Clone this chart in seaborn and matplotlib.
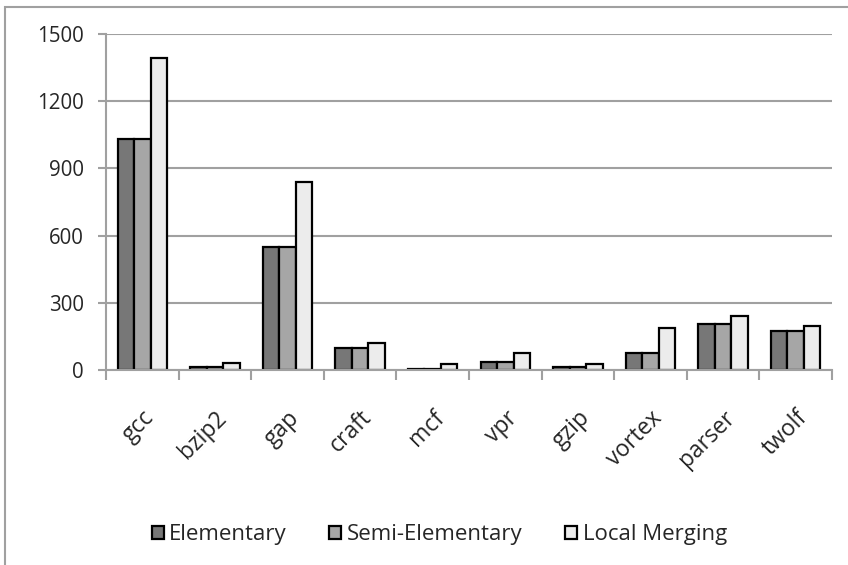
import pandas as pd
import matplotlib
matplotlib.use("Agg")
import matplotlib.pyplot as plt
import seaborn as sns
from matplotlib.patches import Rectangle

# Benchmarks and values
benchmarks = ["gcc", "bzip2", "gap", "craft", "mcf", "vpr", "gzip", "vortex", "parser", "twolf"]
elementary = [1032, 12, 549, 96, 6, 37, 13, 78, 206, 173]
semi_elementary = [1032, 12, 549, 96, 6, 37, 13, 78, 206, 173]
local_merging = [1391, 30, 839, 119, 28, 78, 27, 188, 239, 198]
series_names = ["Elementary", "Semi-Elementary", "Local Merging"]
series_colors = ["#777777", "#a6a6a6", "#ececec"]
y_ticks = [0, 300, 600, 900, 1200, 1500]

# long format for seaborn
rows = []
for name, vals in zip(series_names, [elementary, semi_elementary, local_merging]):
    for b, v in zip(benchmarks, vals):
        rows.append({"benchmark": b, "series": name, "value": v})
df = pd.DataFrame(rows)

sns.set_style("white")
plt.rcParams["font.family"] = ["Open Sans", "DejaVu Sans"]

fig = plt.figure(figsize=(8.48, 5.65), dpi=100)
ax = fig.add_axes([106 / 848, 1 - 370 / 565, 726 / 848, 336 / 565])

sns.barplot(data=df, x="benchmark", y="value", hue="series", order=benchmarks,
            hue_order=series_names, palette=series_colors, width=0.68, gap=0,
            edgecolor="black", linewidth=1.6, ax=ax, legend=True)

ax.set_xlim(-0.5, len(benchmarks) - 0.5)
ax.set_ylim(0, 1500)
ax.set_yticks(y_ticks)
ax.set_yticklabels([str(t) for t in y_ticks], fontsize=14.8)
ax.yaxis.grid(True, color="#a0a0a0", linewidth=1.5)
ax.set_axisbelow(True)
ax.set_xlabel("")
ax.set_ylabel("")

# category labels rotated, tick marks between groups
ax.set_xticks(range(len(benchmarks)))
ax.set_xticklabels(benchmarks, rotation=45, ha="right", rotation_mode="anchor", fontsize=16.5)
ax.tick_params(axis="x", which="major", length=0, pad=26)
ax.set_xticks([i + 0.5 for i in range(-1, len(benchmarks))], minor=True)
ax.tick_params(axis="x", which="minor", length=7, width=1.5, color="#a0a0a0", bottom=True)
ax.tick_params(axis="y", length=6, width=1.5, color="#a0a0a0", left=True, pad=10)

for s in ["top", "right"]:
    ax.spines[s].set_visible(False)
for s in ["left", "bottom"]:
    ax.spines[s].set_color("#a0a0a0")
    ax.spines[s].set_linewidth(1.5)

ax.legend(loc="center", bbox_to_anchor=(0.459, -0.491),
          ncol=3, frameon=False, fontsize=16, handlelength=0.55, handleheight=0.55,
          handletextpad=0.25, columnspacing=1.9, bbox_transform=ax.transAxes)

# outer chart frame
fig.add_artist(Rectangle((5 / 848, -0.1), 1.2, 1.1 - 7 / 565, transform=fig.transFigure,
                         fill=False, edgecolor="#a0a0a0", linewidth=1.5))

fig.savefig("out.png", dpi=100)
